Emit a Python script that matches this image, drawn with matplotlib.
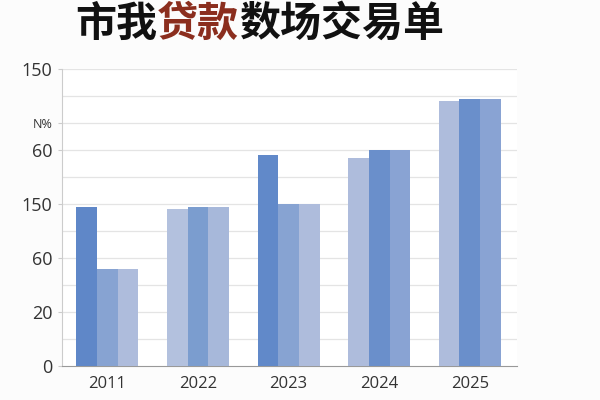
import numpy as np
import matplotlib.pyplot as plt

plt.rcParams['font.family'] = ['Open Sans', 'DejaVu Sans']

# data (units: one grid step = 10)
years = ['2011', '2022', '2023', '2024', '2025']
bar_a = [59, 58, 78, 77, 98]
bar_b = [36, 59, 60, 80, 99]
bar_c = [36, 59, 60, 80, 99]

colors_a = ['#5f87c8', '#b3c1de', '#6189c9', '#aebcdc', '#aebcdc']
colors_b = ['#87a3d2', '#7b9dcf', '#87a3d2', '#6a8fcb', '#6a8fcb']
colors_c = ['#aebcdc', '#a7b8da', '#aebcdc', '#89a3d3', '#89a3d3']

tick_pos = [0, 20, 40, 60, 80, 90, 110]
tick_labels = ['0', '20', '60', '150', '60', 'N%', '150']

fig = plt.figure(figsize=(6, 4), dpi=100)
fig.patch.set_facecolor('#fcfcfc')
ax = fig.add_axes([0.1033, 0.085, 0.7583, 0.7425])
ax.set_facecolor('white')

x = np.arange(len(years))
w = 0.228
ax.bar(x - w, bar_a, w, color=colors_a, zorder=3)
ax.bar(x, bar_b, w, color=colors_b, zorder=3)
ax.bar(x + w, bar_c, w, color=colors_c, zorder=3)

ax.set_xlim(-0.5, 4.52)
ax.set_ylim(0, 110)

# grid every 10
for g in range(10, 111, 10):
    ax.axhline(g, color='#e4e4e4', lw=0.9, zorder=1)

ax.set_yticks(tick_pos)
ax.set_yticklabels(tick_labels)
for lab in ax.get_yticklabels():
    if lab.get_text() == 'N%':
        lab.set_fontsize(9)
    else:
        lab.set_fontsize(13)
    lab.set_color('#333333')
ax.tick_params(axis='y', length=3, color='#cccccc', pad=4)

ax.set_xticks(x)
ax.set_xticklabels(years, fontsize=12, color='#333333')
ax.tick_params(axis='x', length=0, pad=7)

for s in ['top', 'right']:
    ax.spines[s].set_visible(False)
ax.spines['left'].set_color('#cccccc')
ax.spines['bottom'].set_color('#999999')

# title with coloured middle part
title_kw = dict(fontsize=29.5, fontweight='black', va='center',
                family=['Noto Sans CJK SC', 'DejaVu Sans'])
ty = 1 - 24 / 400
fig.text(75 / 600, ty, '市我', color='#111111', **title_kw)
fig.text(157 / 600, ty, '贷款', color='#8b2e1e', **title_kw)
fig.text(239 / 600, ty, '数场交易单', color='#111111', **title_kw)

fig.savefig('out.png', dpi=100)
